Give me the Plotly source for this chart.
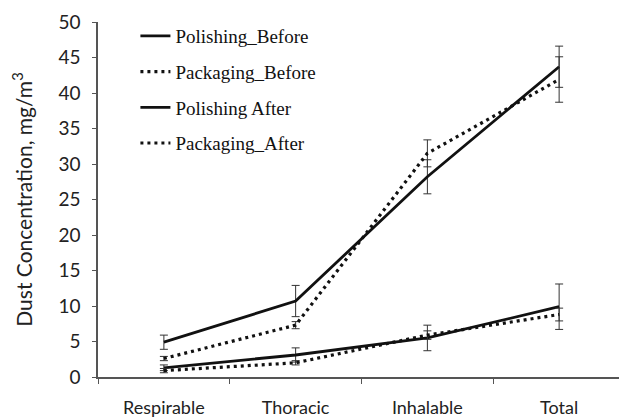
import plotly.graph_objects as go

categories = ["Respirable", "Thoracic", "Inhalable", "Total"]

polishing_before = [4.9, 10.7, 28.2, 43.7]
polishing_before_err = [1.0, 2.2, 2.4, 2.9]
packaging_before = [2.6, 7.3, 31.5, 41.9]
packaging_before_err = [0.3, 0.5, 1.9, 3.2]
polishing_after = [1.3, 3.1, 5.5, 9.9]
polishing_after_err = [0.4, 1.0, 1.8, 3.2]
packaging_after = [0.9, 2.0, 5.9, 8.8]
packaging_after_err = [0.3, 0.3, 0.6, 0.9]

series = [
    ("Polishing_Before", polishing_before, polishing_before_err, "solid"),
    ("Packaging_Before", packaging_before, packaging_before_err, "3px,4px"),
    ("Polishing After", polishing_after, polishing_after_err, "solid"),
    ("Packaging_After", packaging_after, packaging_after_err, "3px,4px"),
]

fig = go.Figure()
for i, (name, vals, errs, dash) in enumerate(series):
    fig.add_trace(go.Scatter(
        x=categories, y=vals, name=name, mode="lines", legendgroup=f"g{i}",
        line=dict(color="#111111", width=2.8 if dash == "solid" else 3.2, dash=dash),
        error_y=dict(type="data", array=errs, visible=True,
                     color="#333333", thickness=1, width=4),
    ))

# page body has an 8px margin, so the figure is shifted by 8px
fig.update_layout(
    width=619, height=412,
    margin=dict(l=90, r=2, t=8, b=35),
    plot_bgcolor="white", paper_bgcolor="white",
    font=dict(family="Lato, 'Open Sans', sans-serif", color="#222222", size=18),
    legend=dict(
        x=0.071, y=1.014, xanchor="left", yanchor="top",
        bgcolor="rgba(0,0,0,0)", traceorder="grouped", tracegroupgap=8,
        font=dict(family="'Liberation Serif', 'Times New Roman', serif", size=19, color="#111111"),
    ),
    showlegend=True,
)

fig.update_xaxes(
    type="category", range=[-0.5, 3.5], tickson="boundaries",
    showline=True, linecolor="#555555", linewidth=1.5,
    ticks="outside", ticklen=5, tickcolor="#555555",
    ticklabelstandoff=14, showgrid=False, zeroline=False,
    tickfont=dict(size=18),
)
fig.update_yaxes(
    range=[0, 50], dtick=5,
    showline=True, linecolor="#555555", linewidth=1.5,
    ticks="outside", ticklen=4, tickcolor="#555555",
    ticklabelstandoff=8, ticklabeloverflow="allow",
    showgrid=False, zeroline=False,
    tickfont=dict(size=19),
    title=dict(text="Dust Concentration, mg/m<sup>3</sup>", font=dict(size=21), standoff=24),
)

fig.write_html("out.html")
